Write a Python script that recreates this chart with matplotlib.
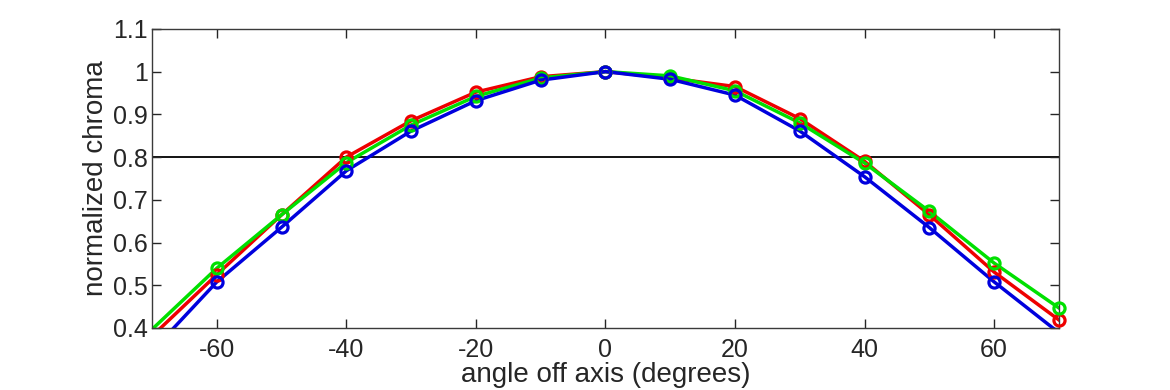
import matplotlib
matplotlib.use("Agg")
import matplotlib.pyplot as plt
import numpy as np

angles = [-70, -60, -50, -40, -30, -20, -10, 0, 10, 20, 30, 40, 50, 60, 70]
red = [0.381, 0.525, 0.665, 0.800, 0.885, 0.952, 0.988, 1.0, 0.985, 0.965, 0.890, 0.790, 0.665, 0.531, 0.419]
green = [0.397, 0.540, 0.665, 0.787, 0.875, 0.942, 0.985, 1.0, 0.990, 0.955, 0.880, 0.786, 0.673, 0.552, 0.447]
blue = [0.346, 0.508, 0.636, 0.768, 0.861, 0.932, 0.980, 1.0, 0.982, 0.945, 0.861, 0.754, 0.635, 0.508, 0.389]

yticks = [0.4, 0.5, 0.6, 0.7, 0.8, 0.9, 1.0, 1.1]
ytick_labels = ['0.4', '0.5', '0.6', '0.7', '0.8', '0.9', '1', '1.1']
xticks = [-60, -40, -20, 0, 20, 40, 60]

plt.rcParams['font.family'] = ['Liberation Sans', 'DejaVu Sans']
plt.rcParams['axes.unicode_minus'] = False
text_col = '#262626'


def main():
    fig = plt.figure(figsize=(11.7, 3.9), dpi=100)
    ax = fig.add_axes([0.130, 0.159, 0.775, 0.767])

    ax.axhline(0.8, color='black', lw=1.3, zorder=1)

    x = np.array(angles)
    for vals, col in [(red, '#ee0000'), (green, '#00e000'), (blue, '#0000dd')]:
        y = np.array(vals)
        ax.plot(x, y, color=col, lw=2.5, zorder=2)
        keep = y >= 0.4
        ax.plot(x[keep], y[keep], ls='none', marker='o', ms=8, mfc='none',
                mec=col, mew=2.3, clip_on=False, zorder=3)

    ax.set_xlim(-70, 70)
    ax.set_ylim(0.4, 1.1)
    ax.set_xticks(xticks)
    ax.set_yticks(yticks)
    ax.set_yticklabels(ytick_labels)
    ax.tick_params(direction='in', length=6.5, width=1, colors=text_col,
                   labelsize=18, top=True, right=True)
    ax.tick_params(axis='x', pad=7)
    ax.tick_params(axis='y', pad=3)
    for s in ax.spines.values():
        s.set_color('#3a3a3a')
        s.set_linewidth(1.0)

    ax.set_xlabel('angle off axis (degrees)', fontsize=20, color=text_col, labelpad=0)
    ax.set_ylabel('normalized chroma', fontsize=20, color=text_col, labelpad=3)

    fig.savefig('out.png', dpi=100)


if __name__ == '__main__':
    main()
